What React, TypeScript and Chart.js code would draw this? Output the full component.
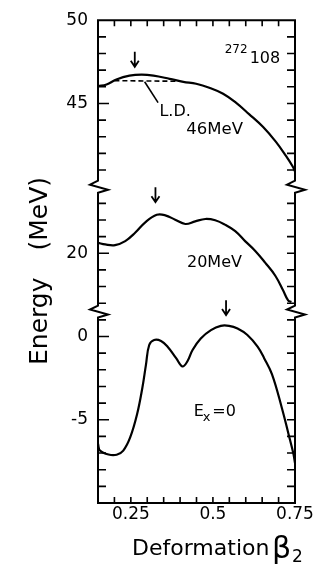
import React, { useEffect, useRef } from 'react';
import { Chart, registerables } from 'chart.js';

Chart.register(...registerables);

// ---- data (β2, energy in MeV) ----
const betaTop = [0.15, 0.176, 0.206, 0.246, 0.283, 0.319, 0.368, 0.41, 0.449, 0.489, 0.531, 0.57, 0.61, 0.653, 0.692, 0.722, 0.743, 0.75];
const energyTop = [46.04, 46.14, 46.44, 46.67, 46.73, 46.67, 46.48, 46.3, 46.18, 45.94, 45.58, 45.05, 44.36, 43.58, 42.69, 41.86, 41.21, 40.91];

const betaLD = [0.2, 0.3, 0.4];
const energyLD = [46.37, 46.35, 46.33];

const betaLeader = [0.292, 0.333];
const energyLeader = [46.3, 45.05];

const betaMid = [0.15, 0.172, 0.202, 0.233, 0.263, 0.294, 0.329, 0.355, 0.385, 0.416, 0.446, 0.477, 0.507, 0.537, 0.568, 0.598, 0.629, 0.659, 0.69, 0.714, 0.729, 0.739];
const energyMid = [20.63, 20.53, 20.49, 20.73, 21.23, 21.86, 22.31, 22.28, 22.02, 21.76, 21.92, 22.06, 21.98, 21.72, 21.33, 20.73, 20.14, 19.44, 18.65, 17.76, 17.17, 17.07];

const betaBot = [0.15, 0.156, 0.182, 0.207, 0.227, 0.248, 0.269, 0.285, 0.296, 0.306, 0.321, 0.342, 0.362, 0.388, 0.407, 0.422, 0.438, 0.463, 0.494, 0.524, 0.549, 0.575, 0.605, 0.636, 0.656, 0.68, 0.71, 0.73, 0.745, 0.75];
const energyBot = [-6.45, -6.85, -7.09, -7.1, -6.85, -6.06, -4.67, -3.09, -1.7, -0.51, -0.21, -0.27, -0.61, -1.3, -1.8, -1.5, -0.81, -0.12, 0.38, 0.64, 0.64, 0.48, 0.09, -0.61, -1.3, -2.27, -4.29, -5.84, -7.03, -7.6];

// ---- ticks ----
const xTicks = [0.15, 0.2, 0.25, 0.3, 0.35, 0.4, 0.45, 0.5, 0.55, 0.6, 0.65, 0.7, 0.75];
const xTickLabels = ['', '', '0.25', '', '', '', '', '0.5', '', '', '', '', '0.75'];
const topTicks = [40, 41, 42, 43, 44, 45, 46, 47, 48, 49, 50];
const topLabels = ['', '', '', '', '', '45', '', '', '', '', '50'];
const midTicks = [16.5, 17, 18, 19, 20, 21, 22, 23, 24];
const midLabels = ['', '', '', '', '20', '', '', '', ''];
const botTicks = [-10, -9, -8, -7, -6, -5, -4, -3, -2, -1, 0, 1, 1.5];
const botLabels = ['', '', '', '', '', '-5', '', '', '', '', '0', '', ''];

// ---- annotations (data coordinates) ----
const arrows = [
  { scale: 'yTop', x: 0.262, y1: 48.1, y2: 47.2 },
  { scale: 'yMid', x: 0.325, y1: 23.96, y2: 23.07 },
  { scale: 'yBot', x: 0.54, y1: 2.18, y2: 1.29 },
];
const texts = [
  { t: '272', scale: 'yTop', x: 0.536, y: 48.04, size: 12 },
  { t: '108', scale: 'yTop', x: 0.612, y: 47.45, size: 16 },
  { t: 'L.D.', scale: 'yTop', x: 0.337, y: 44.24, size: 16 },
  { t: '46MeV', scale: 'yTop', x: 0.419, y: 43.17, size: 16.5 },
  { t: '20MeV', scale: 'yMid', x: 0.421, y: 19.15, size: 16 },
];
const exLabel = { scale: 'yBot', x: 0.442, y: -4.77 };

const FONT = '"DejaVu Sans", sans-serif';

function pts(xs: number[], ys: number[]) {
  return xs.map((x, i) => ({ x, y: ys[i] }));
}

function labeler(vals: number[], labels: string[]) {
  return (value: number) => {
    const i = vals.findIndex((v) => Math.abs(v - value) < 1e-9);
    return i >= 0 ? labels[i] : '';
  };
}

function yScale(vals: number[], labels: string[], min: number, max: number, weight: number) {
  return {
    type: 'linear',
    position: 'left',
    stack: 'energy',
    stackWeight: weight,
    min,
    max,
    afterBuildTicks: (s: any) => {
      s.ticks = vals.map((v) => ({ value: v }));
    },
    afterFit: (s: any) => {
      s.width = 98;
    },
    grid: { display: false, drawTicks: false, tickLength: 0 },
    border: { display: false },
    ticks: {
      color: '#000',
      font: { family: FONT, size: 17 },
      padding: 10,
      autoSkip: false,
      callback: labeler(vals, labels),
    },
  };
}

const decor = {
  id: 'decor',
  afterDraw(chart: any) {
    const ctx = chart.ctx as CanvasRenderingContext2D;
    const xs = chart.scales.x;
    const yT = chart.scales.yTop;
    const yM = chart.scales.yMid;
    const yB = chart.scales.yBot;
    const { left: L, right: R, top: T, bottom: B } = chart.chartArea;
    const b1 = yT.bottom;
    const b2 = yM.bottom;
    ctx.save();
    ctx.strokeStyle = '#000';
    ctx.fillStyle = '#000';
    ctx.lineJoin = 'miter';
    ctx.lineCap = 'butt';

    // frame with breaks
    const zig = (ex: number, b: number) => [
      [ex, b - 6],
      [ex - 8, b - 2],
      [ex + 10, b + 3],
      [ex, b + 6],
    ];
    ctx.lineWidth = 2;
    ctx.beginPath();
    ctx.moveTo(R, T);
    ctx.lineTo(L, T);
    for (const [px, py] of [...zig(L, b1), ...zig(L, b2)]) ctx.lineTo(px, py);
    ctx.lineTo(L, B);
    ctx.lineTo(R, B);
    for (const [px, py] of [...zig(R, b2).reverse(), ...zig(R, b1).reverse()]) ctx.lineTo(px, py);
    ctx.closePath();
    ctx.stroke();

    // inward ticks
    ctx.lineWidth = 1.6;
    ctx.beginPath();
    const ySets: [any, number[], string[]][] = [
      [yT, topTicks, topLabels],
      [yM, midTicks, midLabels],
      [yB, botTicks, botLabels],
    ];
    for (const [s, vals, labels] of ySets) {
      vals.forEach((v, i) => {
        if (v <= s.min || v >= s.max) return;
        const py = s.getPixelForValue(v);
        const len = labels[i] ? 11 : 8;
        ctx.moveTo(L, py);
        ctx.lineTo(L + len, py);
        ctx.moveTo(R, py);
        ctx.lineTo(R - 8, py);
      });
    }
    xTicks.forEach((v) => {
      if (v <= xs.min || v >= xs.max) return;
      const px = xs.getPixelForValue(v);
      ctx.moveTo(px, T);
      ctx.lineTo(px, T + 6);
      ctx.moveTo(px, B);
      ctx.lineTo(px, B - 6);
    });
    ctx.stroke();

    // arrows
    ctx.lineWidth = 1.8;
    for (const a of arrows) {
      const s = chart.scales[a.scale];
      const px = xs.getPixelForValue(a.x);
      const p1 = s.getPixelForValue(a.y1);
      const p2 = s.getPixelForValue(a.y2);
      ctx.beginPath();
      ctx.moveTo(px, p1);
      ctx.lineTo(px, p2);
      ctx.moveTo(px - 4, p2 - 6);
      ctx.lineTo(px, p2);
      ctx.lineTo(px + 4, p2 - 6);
      ctx.stroke();
    }

    // texts
    ctx.textAlign = 'left';
    ctx.textBaseline = 'alphabetic';
    for (const t of texts) {
      const s = chart.scales[t.scale];
      ctx.font = `${t.size}px ${FONT}`;
      ctx.fillText(t.t, xs.getPixelForValue(t.x), s.getPixelForValue(t.y));
    }
    {
      const s = chart.scales[exLabel.scale];
      const ex = xs.getPixelForValue(exLabel.x);
      const ey = s.getPixelForValue(exLabel.y);
      ctx.font = `16px ${FONT}`;
      ctx.fillText('E', ex, ey);
      ctx.font = `13px ${FONT}`;
      ctx.fillText('x', ex + 9, ey + 5);
      ctx.font = `16px ${FONT}`;
      ctx.fillText('=0', ex + 18.5, ey);
    }

    // x axis title
    ctx.font = `22px ${FONT}`;
    ctx.fillText('Deformation', 132, 555);
    ctx.font = `30px ${FONT}`;
    ctx.fillText('β', 272, 558);
    ctx.font = `17px ${FONT}`;
    ctx.fillText('2', 292, 562);

    // y axis title
    ctx.font = `25px ${FONT}`;
    ctx.save();
    ctx.translate(47, 365);
    ctx.rotate(-Math.PI / 2);
    ctx.textAlign = 'left';
    ctx.fillText('Energy', 0, 0);
    ctx.restore();
    ctx.save();
    ctx.translate(47, 177);
    ctx.rotate(-Math.PI / 2);
    ctx.textAlign = 'right';
    ctx.fillText('(MeV)', 0, 0);
    ctx.restore();

    ctx.restore();
  },
};

export default function App() {
  const ref = useRef<HTMLCanvasElement>(null);
  useEffect(() => {
    const line = { borderColor: '#000', pointRadius: 0, fill: false, tension: 0.4 };
    const chart = new Chart(ref.current as HTMLCanvasElement, {
      type: 'line',
      data: {
        datasets: [
          { ...line, data: pts(betaTop, energyTop), yAxisID: 'yTop', borderWidth: 2.2 },
          { ...line, data: pts(betaLD, energyLD), yAxisID: 'yTop', borderWidth: 1.6, borderDash: [5, 3], tension: 0 },
          { ...line, data: pts(betaLeader, energyLeader), yAxisID: 'yTop', borderWidth: 1.6, tension: 0 },
          { ...line, data: pts(betaMid, energyMid), yAxisID: 'yMid', borderWidth: 2.2 },
          { ...line, data: pts(betaBot, energyBot), yAxisID: 'yBot', borderWidth: 2.2 },
        ],
      } as any,
      options: {
        animation: false,
        responsive: true,
        maintainAspectRatio: false,
        devicePixelRatio: 1,
        layout: { padding: { top: 15, right: 30, left: 0, bottom: 0 } },
        plugins: { legend: { display: false }, tooltip: { enabled: false }, title: { display: false } },
        scales: {
          x: {
            type: 'linear',
            min: 0.15,
            max: 0.75,
            afterBuildTicks: (s: any) => {
              s.ticks = xTicks.map((v) => ({ value: v }));
            },
            afterFit: (s: any) => {
              s.height = 64;
            },
            grid: { display: false, drawTicks: false, tickLength: 0 },
            border: { display: false },
            ticks: {
              color: '#000',
              font: { family: FONT, size: 17 },
              padding: 1,
              autoSkip: false,
              maxRotation: 0,
              callback: labeler(xTicks, xTickLabels),
            },
          },
          // stacked scales are laid out bottom-first
          yBot: yScale(botTicks, botLabels, -10, 1.5, 11.5),
          yMid: yScale(midTicks, midLabels, 16.5, 24, 7.5),
          yTop: yScale(topTicks, topLabels, 40, 50, 10),
        } as any,
      },
      plugins: [decor],
    });
    return () => chart.destroy();
  }, []);
  return (
    <div style={{ position: 'fixed', left: 0, top: 0, width: 325, height: 567, background: '#fff' }}>
      <canvas ref={ref} />
    </div>
  );
}
